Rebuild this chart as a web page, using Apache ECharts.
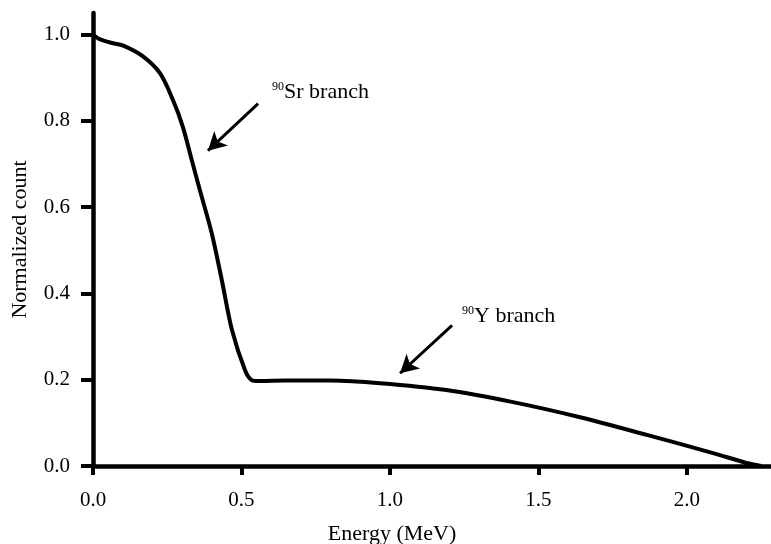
<!DOCTYPE html>
<html>
<head>
<meta charset="utf-8">
<script src="https://cdn.jsdelivr.net/npm/echarts@6/dist/echarts.min.js"></script>
<style>
  html, body { margin: 0; padding: 0; background: #fff; }
  #main { width: 771px; height: 544px; }
</style>
</head>
<body>
<div id="main"></div>
<script>
// energy (MeV) and normalized count
var energy = [0, 0.02, 0.067, 0.10, 0.165, 0.226, 0.27, 0.303, 0.333, 0.36, 0.40, 0.434, 0.468, 0.512, 0.535,
    0.56, 0.65, 0.8, 0.966, 1.19, 1.414, 1.64, 1.865, 2.088, 2.2, 2.25];
var count = [1.0, 0.99, 0.98, 0.975, 0.951, 0.91, 0.847, 0.785, 0.708, 0.639, 0.539, 0.43, 0.315, 0.222, 0.199,
    0.197, 0.198, 0.198, 0.192, 0.176, 0.148, 0.113, 0.072, 0.03, 0.007, 0];

// arrows: [tail, tip] in data coords
var srArrow = [[0.556, 0.84], [0.387, 0.731]];
var yArrow = [[1.209, 0.326], [1.034, 0.215]];

var xLabels = ['0.0', '0.5', '1.0', '1.5', '2.0'];
var yLabels = ['0.0', '0.2', '0.4', '0.6', '0.8', '1.0'];

var pts = [];
for (var i = 0; i < energy.length; i++) {
    pts.push([energy[i], count[i]]);
}

var font = 'Liberation Serif';
var chart = echarts.init(document.getElementById('main'));

var option = {
    backgroundColor: '#fff',
    animation: false,
    grid: {
        left: 93,
        right: 0,
        top: 13,
        bottom: 78,
        containLabel: false,
        outerBoundsMode: 'none'
    },
    xAxis: {
        type: 'value',
        min: 0,
        max: 2.283,
        interval: 0.5,
        name: 'Energy (MeV)',
        nameLocation: 'middle',
        nameGap: 57,
        nameTextStyle: { fontFamily: font, fontSize: 22, color: '#000', padding: [0, 80, 0, 0] },
        axisLine: { lineStyle: { color: '#000', width: 4.5 } },
        axisTick: { length: 9, lineStyle: { color: '#000', width: 4 } },
        splitLine: { show: false },
        axisLabel: {
            showMaxLabel: false,
            margin: 24,
            fontFamily: font, fontSize: 21, color: '#000',
            formatter: function (v) { return xLabels[Math.round(v / 0.5)] || ''; }
        }
    },
    yAxis: {
        type: 'value',
        min: 0,
        max: 1.05,
        interval: 0.2,
        name: 'Normalized count',
        nameLocation: 'middle',
        nameGap: 62,
        nameTextStyle: { fontFamily: font, fontSize: 22, color: '#000' },
        axisLine: { lineStyle: { color: '#000', width: 4.5 } },
        axisTick: { length: 12, lineStyle: { color: '#000', width: 4 } },
        splitLine: { show: false },
        axisLabel: {
            showMaxLabel: false,
            margin: 23,
            fontFamily: font, fontSize: 21, color: '#000',
            formatter: function (v) { return yLabels[Math.round(v / 0.2)] || ''; }
        }
    },
    series: [
        {
            type: 'line',
            data: pts,
            smooth: 0.3,
            showSymbol: false,
            lineStyle: { color: '#000', width: 4 },
            markLine: {
                silent: true,
                symbol: ['none', 'arrow'],
                symbolSize: [15, 18],
                label: { show: false },
                lineStyle: { color: '#000', width: 3, type: 'solid' },
                data: [
                    [{ coord: srArrow[0] }, { coord: srArrow[1] }],
                    [{ coord: yArrow[0] }, { coord: yArrow[1] }]
                ]
            }
        }
    ],
    graphic: [
        {
            type: 'text',
            left: 272,
            top: 81,
            style: {
                text: '{s|90}{t|Sr branch}',
                rich: {
                    s: { fontFamily: font, fontSize: 12, color: '#000', verticalAlign: 'top' },
                    t: { fontFamily: font, fontSize: 22, color: '#000' }
                }
            }
        },
        {
            type: 'text',
            left: 462,
            top: 305,
            style: {
                text: '{s|90}{t|Y branch}',
                rich: {
                    s: { fontFamily: font, fontSize: 12, color: '#000', verticalAlign: 'top' },
                    t: { fontFamily: font, fontSize: 22, color: '#000' }
                }
            }
        }
    ]
};

chart.setOption(option);
</script>
</body>
</html>
